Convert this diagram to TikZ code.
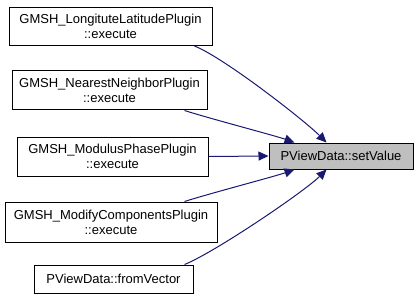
\documentclass[tikz,border=0pt]{standalone}
\usepackage{fontspec}
\setmainfont{Liberation Sans}
\usetikzlibrary{arrows.meta,calc}
\definecolor{edgeblue}{HTML}{191970}
\definecolor{focusgray}{HTML}{BFBFBF}
\tikzset{
  fnbox/.style={draw=black, line width=1pt, fill=white, align=center, inner sep=0pt,
    font=\fontsize{13}{15}\selectfont},
  focusbox/.style={fnbox, fill=focusgray},
  calledge/.style={draw=edgeblue, line width=1pt,
    -{Triangle[length=10pt,width=9pt]}},
}
\begin{document}
\begin{tikzpicture}[x=1pt,y=-1pt]
\useasboundingbox (0,0) rectangle (419,299);
\node[fnbox, minimum width=203, minimum height=38] (b1) at (110.5,26.5)
  {GMSH\_LongituteLatitudePlugin\\::execute};
\node[fnbox, minimum width=195, minimum height=39] (b2) at (109.5,90.5)
  {GMSH\_NearestNeighborPlugin\\::execute};
\node[fnbox, minimum width=191, minimum height=39] (b3) at (112.5,156.5)
  {GMSH\_ModulusPhasePlugin\\::execute};
\node[fnbox, minimum width=212, minimum height=40] (b4) at (111,222)
  {GMSH\_ModifyComponentsPlugin\\::execute};
\node[fnbox, minimum width=159, minimum height=28] (b5) at (113.5,279)
  {PViewData::fromVector};
\node[focusbox, minimum width=144, minimum height=26] (t) at (341,156)
  {PViewData::setValue};
% calls into PViewData::setValue
\draw[calledge] ($(b1.south west)+(186,0)$) .. controls +(30,12) and +(-22,-22) .. ($(t.north west)+(58,0)$);
\draw[calledge] ($(b2.south west)+(173,0)$) .. controls +(25,8) and +(-20,-7) .. ($(t.north west)+(26,0)$);
\draw[calledge] (b3.east) -- (t.west);
\draw[calledge] ($(b4.north west)+(180,0)$) .. controls +(25,-8) and +(-20,7) .. ($(t.south west)+(26,0)$);
\draw[calledge] ($(b5.north west)+(151,0)$) .. controls +(30,-12) and +(-22,22) .. ($(t.south west)+(58,0)$);
\end{tikzpicture}
\end{document}
